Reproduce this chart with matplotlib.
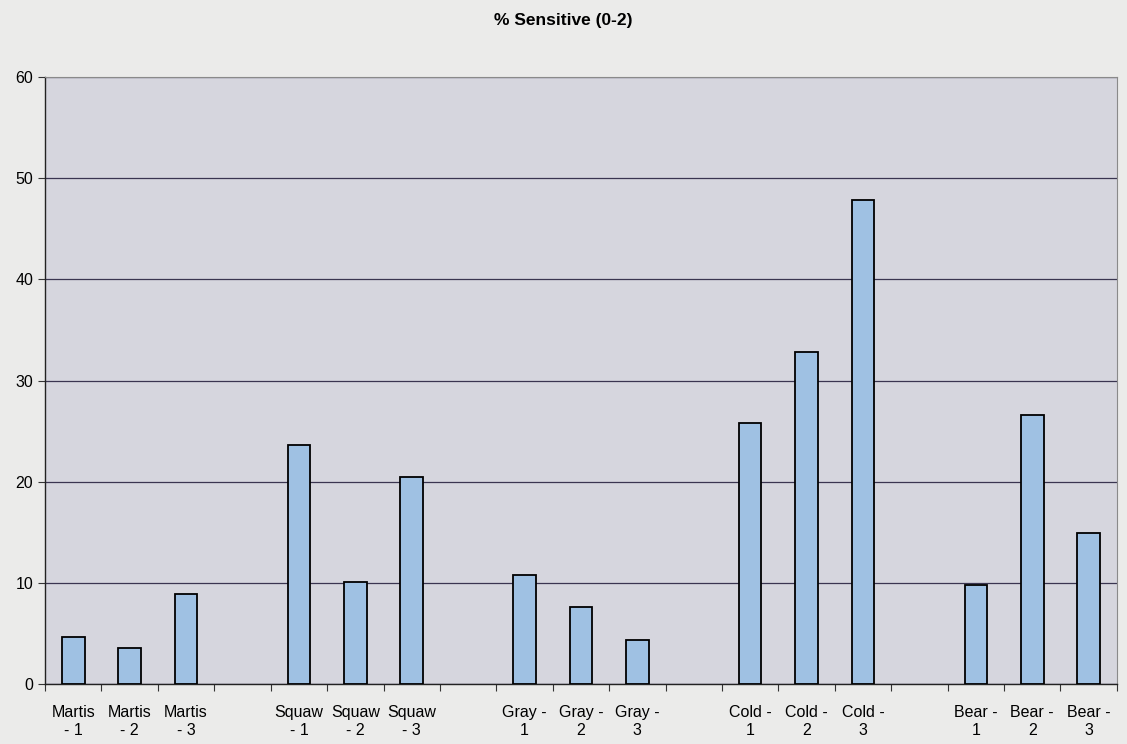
import matplotlib
matplotlib.use('Agg')
import matplotlib.pyplot as plt
import numpy as np

plt.rcParams['font.family'] = ['Liberation Sans', 'DejaVu Sans']

# Datos (los huecos entre sitios son categorias vacias)
etiquetas = ['Martis\n- 1', 'Martis\n- 2', 'Martis\n- 3', '',
             'Squaw\n- 1', 'Squaw\n- 2', 'Squaw\n- 3', '',
             'Gray -\n1', 'Gray -\n2', 'Gray -\n3', '',
             'Cold -\n1', 'Cold -\n2', 'Cold -\n3', '',
             'Bear -\n1', 'Bear -\n2', 'Bear -\n3']
valores = [4.6, 3.5, 8.9, np.nan,
           23.6, 10.1, 20.5, np.nan,
           10.8, 7.6, 4.3, np.nan,
           25.8, 32.8, 47.9, np.nan,
           9.8, 26.6, 14.9]
yticks = [0, 10, 20, 30, 40, 50, 60]

fig = plt.figure(figsize=(11.27, 7.44), dpi=100, facecolor='#ebebea')
ax = fig.add_axes([0.040, 0.081, 0.951, 0.815])
ax.set_facecolor('#d6d6de')

x = np.arange(len(etiquetas))
ax.bar(x, valores, width=0.4, color='#9fc1e3', edgecolor='black', linewidth=1.3, zorder=3)

# Lineas de la cuadricula
ax.set_ylim(0, 60)
ax.set_yticks(yticks)
ax.yaxis.grid(True, color='#3a3550', linewidth=0.9, zorder=1)
ax.set_axisbelow(True)

# Marcas del eje X entre categorias, etiquetas en el centro
ax.set_xlim(-0.5, len(etiquetas) - 0.5)
ax.set_xticks(np.arange(-0.5, len(etiquetas), 1.0))
ax.set_xticklabels([])
ax.set_xticks(x, minor=True)
ax.set_xticklabels(etiquetas, minor=True, fontsize=11.5, linespacing=1.25)
ax.tick_params(axis='x', which='major', direction='out', length=5, color='#333333')
ax.tick_params(axis='x', which='minor', length=0, pad=15)
ax.tick_params(axis='y', direction='out', length=5, labelsize=11.5, color='#333333')

for lado in ['top', 'right']:
    ax.spines[lado].set_color('#8a8a8a')
    ax.spines[lado].set_linewidth(0.8)
for lado in ['left', 'bottom']:
    ax.spines[lado].set_color('#222222')
    ax.spines[lado].set_linewidth(1.0)

fig.text(0.5, 0.972, '% Sensitive (0-2)', ha='center', va='center',
         fontsize=12.5, fontweight='bold')

fig.savefig('out.png', dpi=100, facecolor=fig.get_facecolor())
